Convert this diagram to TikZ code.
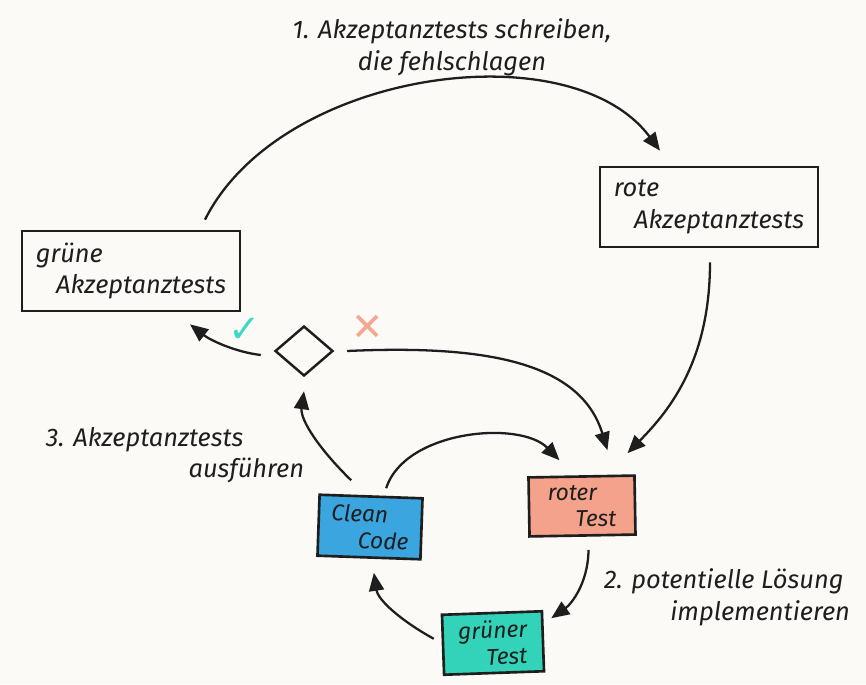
\documentclass[tikz,border=0pt]{standalone}
\usepackage{fontspec}
\setmainfont{Fira Sans}
\newfontfamily\symfont{DejaVu Sans}
\usetikzlibrary{shapes.geometric,arrows.meta,calc}
\definecolor{bgc}{HTML}{FCFAF7}
\definecolor{salmon}{HTML}{F4A28C}
\definecolor{cleanblue}{HTML}{3AA5DE}
\definecolor{tealgreen}{HTML}{33D3BA}
\definecolor{checkc}{HTML}{3DD8C8}
\definecolor{crossc}{HTML}{F6A792}
\definecolor{ink}{HTML}{1E1E1E}
\tikzset{
  hand/.style={font=\fontsize{14.5}{18}\selectfont\itshape, text=ink},
  bigbox/.style={draw=ink, line width=1.5pt, minimum width=4.36cm, minimum height=1.6cm, align=left, hand},
  smallbox/.style={draw=ink, line width=1.5pt, minimum width=2.12cm, minimum height=1.18cm, align=left, font=\fontsize{13}{15}\selectfont\itshape, text=ink},
  decision/.style={draw=ink, line width=1.4pt, diamond, minimum width=1.16cm, minimum height=1.0cm, inner sep=0pt},
  arr/.style={draw=ink, line width=1.3pt, -{Triangle[length=3.6mm,width=3mm]}},
  lbl/.style={hand, align=left}
}
\begin{document}
\begin{tikzpicture}[x=0.02cm, y=-0.02cm]
\fill[bgc] (0,0) rectangle (866,684);
\useasboundingbox (0,0) rectangle (866,684);

% nodes
\node[bigbox] (ra) at (709,207) {rote\\\hspace{0.8em}Akzeptanztests};
\node[bigbox] (ga) at (131,271) {grüne\\\hspace{0.8em}Akzeptanztests};
\node[decision] (dec) at (304,351) {};
\node[smallbox, fill=salmon, rotate=1] (rt) at (582,506) {roter\\\hspace{1.2em}Test};
\node[smallbox, fill=cleanblue, rotate=-2, minimum width=2.06cm, minimum height=1.22cm] (cc) at (370,527) {Clean\\\hspace{1.2em}Code};
\node[smallbox, fill=tealgreen, rotate=2, minimum width=2.0cm, minimum height=1.2cm] (gt) at (493,643) {grüner\\\hspace{1.2em}Test};

% labels
\node[lbl, align=center] (t1) at (452,47) {1. Akzeptanztests schreiben,\\die fehlschlagen};
\node[lbl] (t3) at (175,455) {3. Akzeptanztests\\\hspace{5.6em}ausführen};
\node[lbl] (t2) at (727,597) {2. potentielle Lösung\\\hspace{2.6em}implementieren};
\node[text=checkc, font=\symfont\fontsize{22}{22}\selectfont\bfseries] (ok) at (245,330) {✓};
\node[text=crossc, font=\symfont\fontsize{22}{22}\selectfont\bfseries] (no) at (368,328) {✕};

% connectors
\draw[arr] ([xshift=1.48cm,yshift=0.2cm]ga.north) .. controls (280,70) and (570,30) .. ([xshift=-0.98cm,yshift=0.3cm]ra.north);
\draw[arr] ([xshift=0.02cm,yshift=-0.28cm]ra.south) .. controls (710,360) and (670,410) .. ([xshift=0.92cm,yshift=0.44cm]rt.north);
\draw[arr] ([xshift=0.26cm]dec.east) .. controls (480,345) and (580,360) .. ([xshift=0.52cm,yshift=0.5cm]rt.north);
\draw[arr] ([xshift=-0.26cm,yshift=-0.08cm]dec.west) .. controls (235,352) and (210,340) .. ([xshift=1.18cm,yshift=-0.24cm]ga.south);
\draw[arr] ([xshift=-0.4cm,yshift=0.3cm]cc.north) .. controls (320,450) and (300,420) .. ([yshift=-0.28cm]dec.south);
\draw[arr] ([xshift=0.3cm,yshift=0.14cm]cc.north) .. controls (405,430) and (520,420) .. ([xshift=-0.44cm,yshift=0.3cm]rt.north);
\draw[arr] ([xshift=0.12cm,yshift=-0.26cm]rt.south) .. controls (588,585) and (570,605) .. ([xshift=0.14cm,yshift=0.46cm]gt.east);
\draw[arr] ([xshift=-0.16cm,yshift=0.12cm]gt.west) .. controls (400,620) and (378,600) .. ([xshift=0.1cm,yshift=-0.28cm]cc.south);
\end{tikzpicture}
\end{document}
